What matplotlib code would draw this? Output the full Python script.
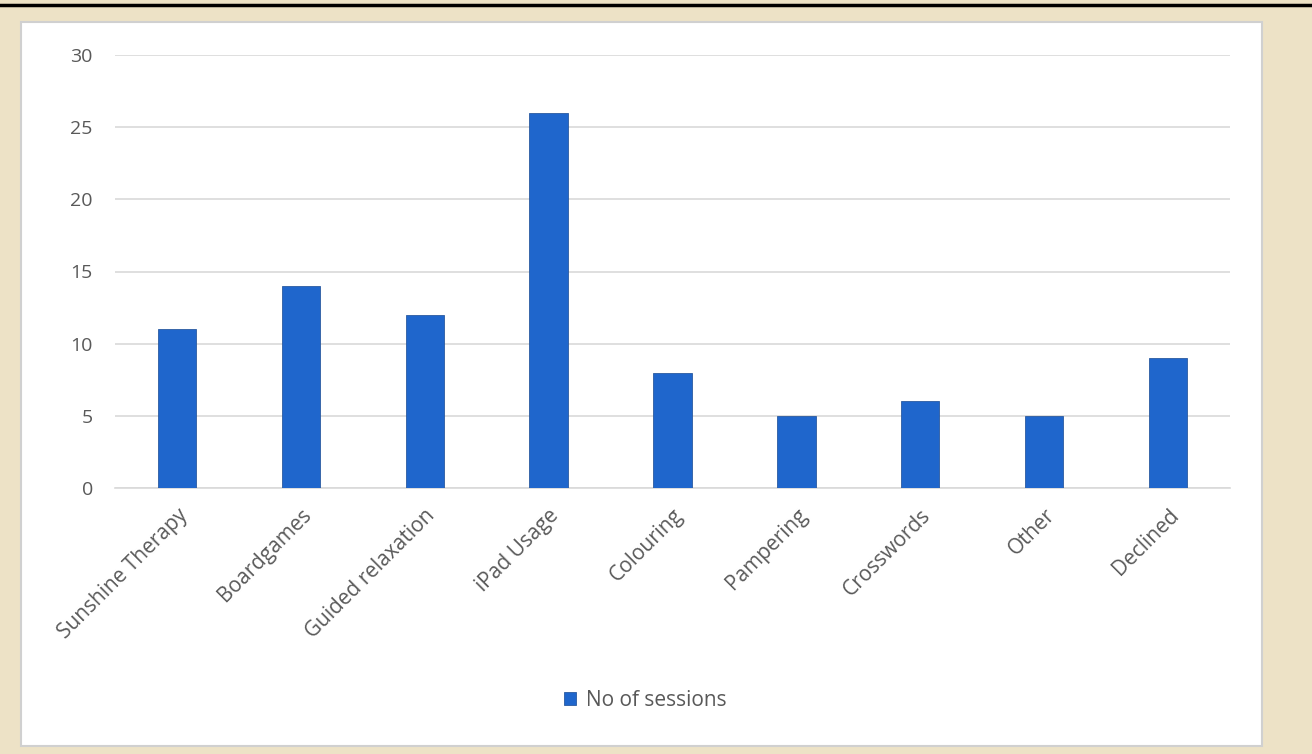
import matplotlib.pyplot as plt
from matplotlib.patches import Rectangle
from matplotlib.lines import Line2D

categories = ['Sunshine Therapy', 'Boardgames', 'Guided relaxation', 'iPad Usage',
              'Colouring', 'Pampering', 'Crosswords', 'Other', 'Declined']
sessions = [11, 14, 12, 26, 8, 5, 6, 5, 9]
y_ticks = [0, 5, 10, 15, 20, 25, 30]

plt.rcParams['font.family'] = ['Open Sans', 'DejaVu Sans']

W, H = 1312, 754
fig = plt.figure(figsize=(W / 100, H / 100), dpi=100)
fig.patch.set_facecolor('#ede2c6')

# black rule at the top
fig.add_artist(Line2D([0, 1], [1 - 5 / H, 1 - 5 / H], color='black', lw=2.5,
                      transform=fig.transFigure))

# white chart panel
fig.add_artist(Rectangle((21 / W, 8 / H), (1262 - 21) / W, (746 - 22) / H,
                         transform=fig.transFigure, facecolor='white',
                         edgecolor='#d0d0d0', lw=1.5, zorder=0))

ax = fig.add_axes([115 / W, 1 - 488 / H, (1230 - 115) / W, (488 - 55) / H])
ax.set_facecolor('none')
x = range(len(categories))
ax.bar(x, sessions, width=0.31, color='#1f66cc', edgecolor='#2a5aa0',
       linewidth=0.6, zorder=3, label='No of sessions')

ax.set_xlim(-0.5, len(categories) - 0.5)
ax.set_ylim(0, 30)
ax.set_yticks(y_ticks)
ax.yaxis.grid(True, color='#d9d9d9', lw=1.2, zorder=0)
for s in ['top', 'right', 'left']:
    ax.spines[s].set_visible(False)
ax.spines['bottom'].set_color('#d9d9d9')
ax.spines['bottom'].set_linewidth(1.2)
ax.tick_params(axis='both', length=0, colors='#595959')
ax.tick_params(axis='y', pad=16, labelsize=14)
ax.tick_params(axis='x', pad=12, labelsize=15)
ax.set_xticks(list(x))
ax.set_xticklabels(categories, rotation=45, ha='right', rotation_mode='anchor')

leg = ax.legend(loc='center', bbox_to_anchor=(0.476, -0.49), frameon=False,
                fontsize=15, handlelength=0.55, handleheight=0.6,
                handletextpad=0.5)
for t in leg.get_texts():
    t.set_color('#595959')

fig.savefig('out.png', dpi=100, facecolor=fig.get_facecolor())
